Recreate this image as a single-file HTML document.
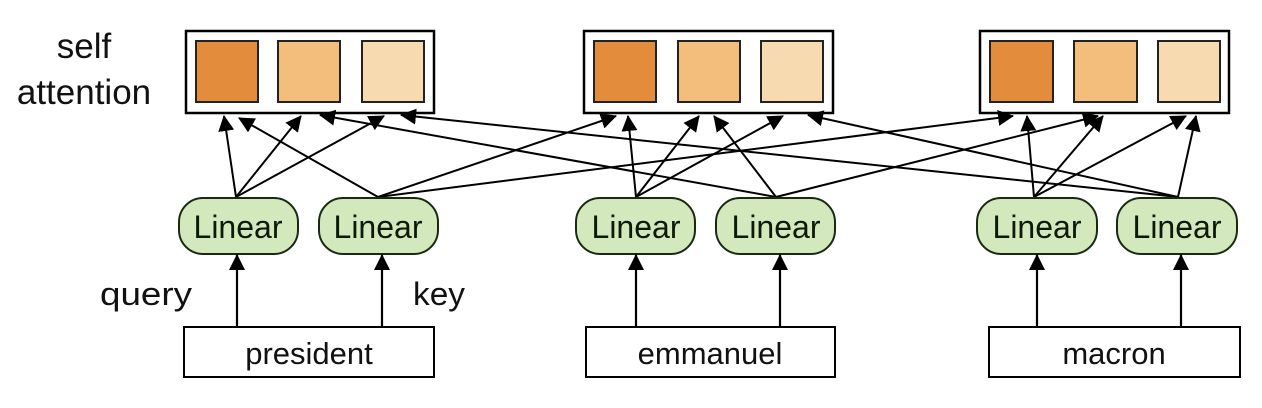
<!DOCTYPE html>
<html><head><meta charset="utf-8"><style>
html,body{margin:0;padding:0;background:#fff;}
svg{display:block;font-family:"Liberation Sans",sans-serif;}
</style></head><body>
<svg width="1262" height="408" viewBox="0 0 1262 408" xmlns="http://www.w3.org/2000/svg">
<defs>
<marker id="ah2" markerWidth="16" markerHeight="16" refX="15" refY="8" orient="auto" markerUnits="userSpaceOnUse" viewBox="0 0 16 16">
<path d="M0,0 L16,8 L0,16 z" fill="#000"/>
</marker>
</defs>
<text x="84" y="58" font-size="35" text-anchor="middle" fill="#111">self</text>
<text x="84" y="104" font-size="35" text-anchor="middle" fill="#111">attention</text>

<g stroke="#000" stroke-width="2.5">
<rect x="186" y="31" width="248" height="82" fill="#fff"/>
<rect x="584" y="31" width="249" height="82" fill="#fff"/>
<rect x="980" y="31" width="249" height="82" fill="#fff"/>
</g>
<g stroke="#222" stroke-width="2">
<rect x="196" y="41" width="62" height="61" fill="#e38c3b"/>
<rect x="278" y="41" width="62" height="61" fill="#f3be7c"/>
<rect x="362" y="41" width="62" height="61" fill="#f8dab0"/>
<rect x="594" y="41" width="62" height="61" fill="#e38c3b"/>
<rect x="678" y="41" width="62" height="61" fill="#f3be7c"/>
<rect x="761" y="41" width="62" height="61" fill="#f8dab0"/>
<rect x="990" y="41" width="63" height="61" fill="#e38c3b"/>
<rect x="1074" y="41" width="63" height="61" fill="#f3be7c"/>
<rect x="1158" y="41" width="62" height="61" fill="#f8dab0"/>
</g>

<g stroke="#000" stroke-width="2" fill="none" marker-end="url(#ah2)">
<line x1="236" y1="197" x2="224" y2="116"/>
<line x1="236" y1="197" x2="301" y2="116"/>
<line x1="236" y1="197" x2="384" y2="116"/>
<line x1="378" y1="197" x2="239" y2="118"/>
<line x1="378" y1="197" x2="616" y2="116"/>
<line x1="378" y1="197" x2="1013" y2="116"/>
<line x1="636" y1="197" x2="628" y2="116"/>
<line x1="636" y1="197" x2="699" y2="116"/>
<line x1="636" y1="197" x2="783" y2="116"/>
<line x1="776" y1="197" x2="320" y2="115"/>
<line x1="776" y1="197" x2="714" y2="116"/>
<line x1="776" y1="197" x2="1098" y2="116"/>
<line x1="1034" y1="197" x2="1027" y2="116"/>
<line x1="1034" y1="197" x2="1103" y2="116"/>
<line x1="1034" y1="197" x2="1186" y2="116"/>
<line x1="1178" y1="197" x2="401" y2="115"/>
<line x1="1178" y1="197" x2="808" y2="115"/>
<line x1="1178" y1="197" x2="1196" y2="116"/>
</g>

<g stroke="#1a2a12" stroke-width="2" fill="#d3e8bd">
<rect x="179" y="198" width="119" height="56" rx="24"/>
<rect x="319" y="198" width="119" height="56" rx="24"/>
<rect x="576" y="198" width="119" height="56" rx="24"/>
<rect x="716" y="198" width="119" height="56" rx="24"/>
<rect x="977" y="198" width="120" height="56" rx="24"/>
<rect x="1117" y="198" width="120" height="56" rx="24"/>
</g>
<g font-size="32" text-anchor="middle" fill="#0d1a08">
<text x="238" y="238">Linear</text>
<text x="378" y="238">Linear</text>
<text x="636" y="238">Linear</text>
<text x="776" y="238">Linear</text>
<text x="1037" y="238">Linear</text>
<text x="1177" y="238">Linear</text>
</g>

<g stroke="#000" stroke-width="2.2" marker-end="url(#ah2)">
<line x1="237" y1="327" x2="237" y2="255"/>
<line x1="382" y1="327" x2="382" y2="255"/>
<line x1="636" y1="327" x2="636" y2="255"/>
<line x1="780" y1="327" x2="780" y2="255"/>
<line x1="1037" y1="327" x2="1037" y2="255"/>
<line x1="1181" y1="327" x2="1181" y2="255"/>
</g>

<text x="146" y="305" font-size="32" text-anchor="middle" fill="#111" textLength="92" lengthAdjust="spacingAndGlyphs">query</text>
<text x="439" y="305" font-size="32" text-anchor="middle" fill="#111" textLength="52" lengthAdjust="spacingAndGlyphs">key</text>

<g stroke="#000" stroke-width="2" fill="#fff">
<rect x="184" y="327" width="250" height="50"/>
<rect x="586" y="327" width="249" height="50"/>
<rect x="989" y="327" width="251" height="50"/>
</g>
<g font-size="31" text-anchor="middle" fill="#111">
<text x="309" y="364">president</text>
<text x="710" y="364">emmanuel</text>
<text x="1114" y="364">macron</text>
</g>
</svg>
</body></html>
